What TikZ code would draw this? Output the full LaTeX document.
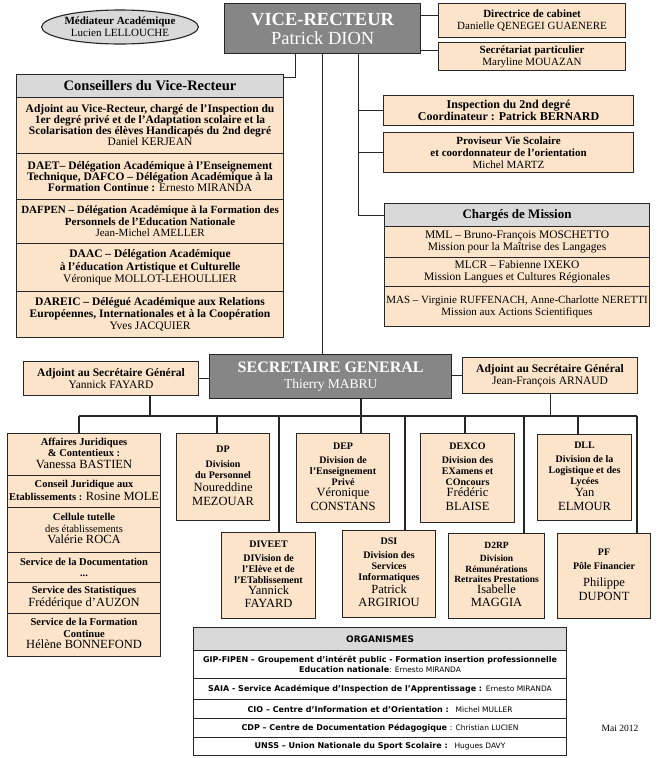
\documentclass[tikz,border=0pt]{standalone}
\usepackage{fontspec}
\setmainfont{Liberation Serif}
\newfontfamily\orgfont{DejaVu Sans}
\usetikzlibrary{positioning, shapes.geometric}
\definecolor{cpeach}{HTML}{FCE4CA}
\definecolor{clight}{HTML}{D9D9D9}
\definecolor{cdark}{HTML}{868686}
\definecolor{cline}{HTML}{262626}
\newcommand{\fsz}[2]{\fontsize{#1}{#2}\selectfont}
\newcommand{\pname}[1]{{\mdseries\fsz{12.5}{13}\rule[-3pt]{0pt}{12.5pt}#1}}
\newcommand{\oname}[1]{{\mdseries\fsz{7.5}{9}#1}}
\tikzset{
  every picture/.style={line width=1.1pt},
  cell/.style={draw=cline, fill=#1, anchor=north west, align=center, inner sep=1pt, font=\fsz{11.5}{11}\bfseries},
  cell/.default=cpeach,
  wh/.style 2 args={minimum width=#1pt, minimum height=#2pt},
  chief/.style={cell=cdark, text=white, line width=1.4pt},
  head/.style={cell=clight, font=\fsz{14.5}{15}\bfseries},
  div/.style={cell, wh={#1}{86}, font=\fsz{10}{11}\bfseries},
  orgrow/.style={cell=white, font=\orgfont\fsz{8}{9.5}\bfseries},
  link/.style={draw=cline, line width=1.1pt},
}

\begin{document}
\begin{tikzpicture}[x=1pt, y=-1pt]
  \fill[white] (0,0) rectangle (657,758);
  \useasboundingbox (0,0) rectangle (657,758);
  % top level
  \node[ellipse, draw=cline, fill=clight, minimum width=139pt, minimum height=34pt, inner sep=0pt, align=center, font=\fsz{11}{12}] (med) at (120,27) {\textbf{Médiateur Académique}\\Lucien LELLOUCHE};
  \node[chief, wh={196}{50}, font=\fsz{18.5}{19}] (vr) at (224,3) {\textbf{VICE-RECTEUR}\\Patrick DION};
  \node[cell, wh={187}{34}, font=\fsz{11}{12}\bfseries] (dir) at (438,3) {Directrice de cabinet\\\textmd{Danielle QENEGEI GUAENERE}};
  \node[cell, wh={187}{28}, font=\fsz{11}{12}\bfseries] (sec) at (438,42) {Secrétariat particulier\\\textmd{Maryline MOUAZAN}};
  \node[cell, wh={250}{30}, font=\fsz{12}{12.5}\bfseries] (insp) at (383,95) {Inspection du 2nd degré\\Coordinateur : Patrick BERNARD};
  \node[cell, wh={250}{40}, font=\fsz{11}{12}\bfseries] (prov) at (383,132) {Proviseur Vie Scolaire\\et coordonnateur de l’orientation\\\textmd{Michel MARTZ}};
  % conseillers
  \node[head, wh={267}{23}] (conshead) at (16,74) {Conseillers du Vice-Recteur};
  \node[cell, wh={267}{56}] (kerjean) at (16,97) {Adjoint au Vice-Recteur, chargé de l’Inspection du\\1er degré privé et de l’Adaptation scolaire et la\\Scolarisation des élèves Handicapés du 2nd degré\\\textmd{Daniel KERJEAN}};
  \node[cell, wh={267}{46}] (daet) at (16,153) {DAET– Délégation Académique à l’Enseignement\\Technique, DAFCO – Délégation Académique à la\\Formation Continue : \textmd{Ernesto MIRANDA}};
  \node[cell, wh={267}{44}, font=\fsz{11}{11.5}\bfseries] (dafpen) at (16,199) {DAFPEN – Délégation Académique à la Formation des\\Personnels de l’Education Nationale\\\textmd{Jean-Michel AMELLER}};
  \node[cell, wh={267}{48}, font=\fsz{11.5}{12.5}\bfseries] (daac) at (16,243) {DAAC –  Délégation Académique\\à l’éducation Artistique et Culturelle\\\textmd{Véronique MOLLOT-LEHOULLIER}};
  \node[cell, wh={267}{46}, font=\fsz{11.5}{12}\bfseries] (dareic) at (16,291) {DAREIC – Délégué Académique aux Relations\\Européennes, Internationales et à la Coopération\\\textmd{Yves JACQUIER}};
  % charges de mission
  \node[head, wh={265}{23}, font=\fsz{13}{14}\bfseries] (chhead) at (384,203) {Chargés de Mission};
  \node[cell, wh={265}{31}, font=\fsz{11.5}{12}] (mml) at (384,226) {MML – Bruno-François MOSCHETTO\\Mission pour la Maîtrise des Langages};
  \node[cell, wh={265}{29}, font=\fsz{11.5}{12}] (mlcr) at (384,257) {MLCR –  Fabienne IXEKO\\Mission Langues et Cultures Régionales};
  \node[cell, wh={265}{40}, font=\fsz{11}{12}] (mas) at (384,286) {MAS – Virginie RUFFENACH, Anne-Charlotte NERETTI\\Mission  aux Actions Scientifiques};
  % secretariat general
  \node[chief, wh={242}{44}, font=\fsz{13.5}{16}] (sg) at (209,354) {\fsz{16}{16}\textbf{SECRETAIRE GENERAL}\\Thierry MABRU};
  \node[cell, wh={175}{34}, font=\fsz{11.5}{12.5}\bfseries] (fay) at (23,361) {Adjoint au Secrétaire Général\\\textmd{Yannick FAYARD}};
  \node[cell, wh={175}{36}, font=\fsz{11.5}{12.5}\bfseries] (arn) at (462,357) {Adjoint au Secrétaire Général\\\textmd{Jean-François ARNAUD}};
  % services
  \node[cell, wh={153}{42}, font=\fsz{10.5}{11.5}\bfseries] (aff1) at (7,433) {Affaires Juridiques\\\& Contentieux :\\\pname{Vanessa BASTIEN}};
  \node[cell, wh={153}{32}, font=\fsz{10.5}{11.5}\bfseries] (aff2) at (7,475) {Conseil Juridique aux\\Etablissements : \pname{Rosine MOLE}};
  \node[cell, wh={153}{45}, font=\fsz{10.5}{11.5}\bfseries] (aff3) at (7,507) {Cellule tutelle\\\textmd{des établissements}\\\pname{Valérie ROCA}};
  \node[cell, wh={153}{30}, font=\fsz{10.5}{11.5}\bfseries] (aff4) at (7,552) {Service de la Documentation\\...};
  \node[cell, wh={153}{31}, font=\fsz{10.5}{11.5}\bfseries] (aff5) at (7,582) {Service des Statistiques\\\pname{Frédérique d’AUZON}};
  \node[cell, wh={153}{43}, font=\fsz{10.5}{11.5}\bfseries] (aff6) at (7,613) {Service de la Formation\\Continue\\\pname{Hélène BONNEFOND}};
  % divisions
  \node[div=93, minimum height=87pt] (dp) at (176,433) {DP\\[4pt]Division\\du Personnel\\[2pt]\pname{Noureddine}\\\pname{MEZOUAR}};
  \node[div=93, minimum height=89pt] (dep) at (296,433) {DEP\\[3pt]Division de\\l’Enseignement\\Privé\\\pname{Véronique}\\\pname{CONSTANS}};
  \node[div=94, minimum height=89pt] (dexco) at (420,433) {DEXCO\\[3pt]Division des\\EXamens et\\COncours\\\pname{Frédéric}\\\pname{BLAISE}};
  \node[div=94] (dll) at (537,434) {DLL\\[3pt]Division de la\\Logistique et des\\Lycées\\\pname{Yan}\\\pname{ELMOUR}};
  \node[div=94] (diveet) at (221,532) {DIVEET\\[3pt]DIVision de\\l’Elève  et de\\l’ETablissement\\\pname{Yannick}\\\pname{FAYARD}};
  \node[div=93, minimum height=87pt] (dsi) at (342,530) {DSI\\[3pt]Division des\\Services\\Informatiques\\\pname{Patrick}\\\pname{ARGIRIOU}};
  \node[div=96, minimum height=85pt, font=\fsz{9.5}{10.5}\bfseries] (drp) at (448,533) {D2RP\\[3pt]Division\\Rémunérations\\Retraites Prestations\\\pname{Isabelle}\\\pname{MAGGIA}};
  \node[div=93, minimum height=85pt] (pf) at (557,533) {PF\\[3pt]Pôle Financier\\[6pt]\pname{Philippe}\\\pname{DUPONT}};
  % organismes
  \node[orgrow, fill=clight, wh={373}{23}, font=\orgfont\fsz{9}{10}\bfseries] (orghead) at (193,627) {ORGANISMES};
  \node[orgrow, wh={373}{28}] (gip) at (193,650) {GIP-FIPEN – Groupement d’intérêt public - Formation insertion professionnelle\\Education nationale\oname{: Ernesto MIRANDA}};
  \node[orgrow, wh={373}{21}] (saia) at (193,678) {SAIA - Service Académique d’Inspection de l’Apprentissage : \oname{Ernesto MIRANDA}};
  \node[orgrow, wh={373}{19}] (cio) at (193,699) {CIO – Centre d’Information et d’Orientation : \oname{ Michel MULLER}};
  \node[orgrow, wh={373}{19}] (cdp) at (193,718) {CDP – Centre de Documentation Pédagogique \oname{: Christian LUCIEN}};
  \node[orgrow, wh={373}{18}] (unss) at (193,737) {UNSS – Union Nationale du Sport Scolaire : \oname{ Hugues DAVY}};
  \node[font=\fsz{9.5}{11}] (date) at (620,728) {Mai 2012};
  % links, vice-recteur
  \coordinate (spine) at ([xshift=36pt]vr.south);
  \draw[link] ([xshift=-27pt]vr.south) |- ([yshift=8.5pt]conshead.east);
  \draw[link] (vr.south) -- (vr.south |- sg.north);
  \draw[link] (spine) |- (chhead.west);
  \draw[link] (insp.west) -- (insp.west -| spine);
  \draw[link] (prov.west) -- (prov.west -| spine);
  \draw[link] ([yshift=5pt]dir.west) -- ([yshift=5pt]dir.west -| vr.east);
  \draw[link] ([yshift=6pt]sec.west) -- ([yshift=6pt]sec.west -| vr.east);
  % links, secretaire general
  \draw[link] (fay.east) -- (fay.east -| sg.west);
  \draw[link] (arn.west) -- (arn.west -| sg.east);
  \foreach \x/\n in {79/aff1, 217/dp, 279/diveet, 361/dep, 405/dsi, 465/dexco, 524/drp, 578/dll, 637/pf} {
    \coordinate (t-\n) at (\x,416);
    \draw[link] (t-\n) -- (t-\n |- \n.north);
  }
  \coordinate (t-fay) at (150,416);
  \draw[link] (t-aff1) -- (t-pf);
  \draw[link] (fay.south -| t-fay) -- (t-fay);
  \draw[link] (sg.south -| t-dep) -- (t-dep);
  \draw[link] (arn.south) -- (arn.south |- t-fay);
\end{tikzpicture}
\end{document}
